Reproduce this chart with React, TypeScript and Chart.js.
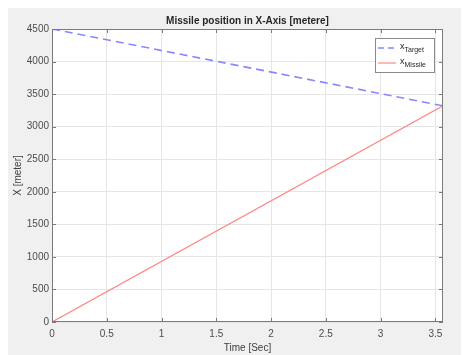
import React, { useEffect, useRef } from "react";
import { Chart, registerables } from "chart.js";

Chart.register(...registerables);

const timeSec = [0, 3.57];
const targetX = [4500, 3320];
const missileX = [0, 3320];
const xTicks = [0, 0.5, 1, 1.5, 2, 2.5, 3, 3.5];
const yTicks = [0, 500, 1000, 1500, 2000, 2500, 3000, 3500, 4000, 4500];
const titleText = "Missile position in X-Axis [metere]";
const xTitle = "Time [Sec]";
const yTitle = "X [meter]";
const legendMain = ["x", "x"];
const legendSub = ["Target", "Missile"];

const FONT = "'Liberation Sans', Arial, sans-serif";
const BLUE = "rgb(135,135,255)";
const RED = "rgb(255,135,135)";

const decorPlugin = {
  id: "decor",
  beforeDraw(chart: any) {
    const { ctx, chartArea: a } = chart;
    ctx.save();
    ctx.fillStyle = "#ffffff";
    ctx.fillRect(a.left, a.top, a.right - a.left, a.bottom - a.top);
    ctx.restore();
  },
  afterDraw(chart: any) {
    const { ctx, chartArea: a, scales } = chart;
    const xs = scales.x;
    const ys = scales.y;
    ctx.save();
    // box
    ctx.strokeStyle = "#7a7a7a";
    ctx.lineWidth = 1;
    ctx.strokeRect(a.left + 0.5, a.top + 0.5, a.right - a.left - 1, a.bottom - a.top - 1);
    // inner ticks
    ctx.beginPath();
    const tl = 4;
    xTicks.forEach((v) => {
      const px = Math.round(xs.getPixelForValue(v)) + 0.5;
      ctx.moveTo(px, a.bottom);
      ctx.lineTo(px, a.bottom - tl);
      ctx.moveTo(px, a.top);
      ctx.lineTo(px, a.top + tl);
    });
    yTicks.forEach((v) => {
      const py = Math.round(ys.getPixelForValue(v)) + 0.5;
      ctx.moveTo(a.left, py);
      ctx.lineTo(a.left + tl, py);
      ctx.moveTo(a.right, py);
      ctx.lineTo(a.right - tl, py);
    });
    ctx.stroke();

    // title
    ctx.fillStyle = "#262626";
    ctx.font = `bold 10px ${FONT}`;
    ctx.textAlign = "center";
    ctx.textBaseline = "middle";
    ctx.fillText(titleText, (a.left + a.right) / 2, 13);

    // axis titles
    ctx.fillStyle = "#404040";
    ctx.font = `10px ${FONT}`;
    ctx.fillText(xTitle, (a.left + a.right) / 2, 340);
    ctx.save();
    ctx.translate(10, (a.top + a.bottom) / 2);
    ctx.rotate(-Math.PI / 2);
    ctx.fillText(yTitle, 0, 0);
    ctx.restore();

    // legend
    const lx = a.right - 68;
    const ly = a.top + 9;
    const lw = 60;
    const lh = 35;
    ctx.fillStyle = "#ffffff";
    ctx.fillRect(lx, ly, lw, lh);
    ctx.strokeStyle = "#8a8a8a";
    ctx.lineWidth = 1;
    ctx.strokeRect(lx + 0.5, ly + 0.5, lw - 1, lh - 1);
    const items = [
      { color: BLUE, dash: [6, 4], width: 1.6 },
      { color: RED, dash: [], width: 1.2 },
    ];
    items.forEach((it, i) => {
      const y = ly + 10 + i * 15;
      ctx.strokeStyle = it.color;
      ctx.lineWidth = it.width;
      ctx.setLineDash(it.dash);
      ctx.beginPath();
      ctx.moveTo(lx + 3, y);
      ctx.lineTo(lx + 21, y);
      ctx.stroke();
      ctx.setLineDash([]);
      ctx.fillStyle = "#262626";
      ctx.textAlign = "left";
      ctx.textBaseline = "alphabetic";
      ctx.font = `9px ${FONT}`;
      ctx.fillText(legendMain[i], lx + 25, y + 1);
      const w = ctx.measureText(legendMain[i]).width;
      ctx.font = `7px ${FONT}`;
      ctx.fillText(legendSub[i], lx + 25 + w, y + 4);
    });
    ctx.restore();
  },
};

export default function App() {
  const ref = useRef<HTMLCanvasElement | null>(null);
  useEffect(() => {
    if (!ref.current) return;
    const chart = new Chart(ref.current, {
      type: "line",
      data: {
        datasets: [
          {
            label: "xTarget",
            data: timeSec.map((t, i) => ({ x: t, y: targetX[i] })),
            borderColor: BLUE,
            borderWidth: 1.6,
            borderDash: [8, 5],
            pointRadius: 0,
            fill: false,
          },
          {
            label: "xMissile",
            data: timeSec.map((t, i) => ({ x: t, y: missileX[i] })),
            borderColor: RED,
            borderWidth: 1.2,
            pointRadius: 0,
            fill: false,
          },
        ],
      },
      options: {
        animation: false,
        responsive: false,
        maintainAspectRatio: false,
        layout: { padding: { top: 21, left: 0, right: 18, bottom: 0 } },
        plugins: {
          legend: { display: false },
          title: { display: false },
          tooltip: { enabled: false },
        },
        scales: {
          x: {
            type: "linear",
            min: 0,
            max: 3.57,
            afterFit: (s: any) => {
              s.height = 33;
            },
            afterBuildTicks: (s: any) => {
              s.ticks = xTicks.map((v) => ({ value: v }));
            },
            ticks: {
              color: "#4d4d4d",
              font: { size: 10, family: FONT },
              padding: 6,
              maxRotation: 0,
              autoSkip: false,
              includeBounds: false,
              callback: (v: any) => String(v),
            },
            grid: { color: "#e6e6e6", drawTicks: false },
            border: { display: false },
          },
          y: {
            type: "linear",
            min: 0,
            max: 4500,
            afterFit: (s: any) => {
              s.width = 44;
            },
            afterBuildTicks: (s: any) => {
              s.ticks = yTicks.map((v) => ({ value: v }));
            },
            ticks: {
              color: "#4d4d4d",
              font: { size: 10, family: FONT },
              padding: 3,
              autoSkip: false,
              callback: (v: any) => String(v),
            },
            grid: { color: "#e6e6e6", drawTicks: false },
            border: { display: false },
          },
        },
      },
      plugins: [decorPlugin],
    });
    return () => chart.destroy();
  }, []);
  return (
    <div
      style={{
        position: "fixed",
        left: 8,
        top: 8,
        width: 453,
        height: 347,
        background: "#f0f0f0",
      }}
    >
      <canvas ref={ref} width={453} height={347} style={{ display: "block", width: 453, height: 347 }} />
    </div>
  );
}
